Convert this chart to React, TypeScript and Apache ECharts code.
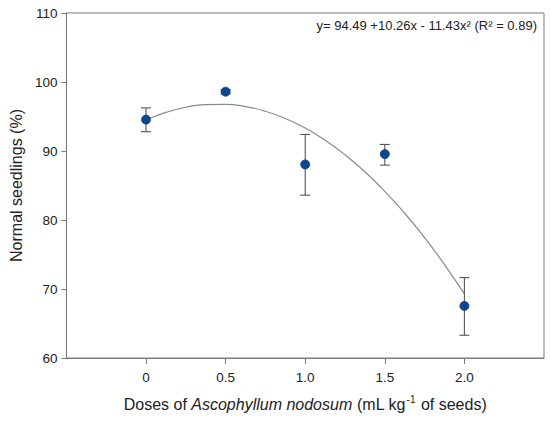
import React, { useEffect, useRef } from "react";
import * as echarts from "echarts";

const doses = [0, 0.5, 1.0, 1.5, 2.0];
const meanValues = [94.55, 98.6, 88.05, 89.55, 67.55];
const lowerValues = [92.8, 98.3, 83.6, 87.95, 63.3];
const upperValues = [96.25, 98.9, 92.4, 90.95, 71.65];

// Fitted curve as drawn in the figure
const curveX = [0, 0.125, 0.25, 0.375, 0.5, 0.625, 0.75, 0.875, 1.0, 1.125, 1.25, 1.375, 1.5, 1.625, 1.75, 1.875, 2.0];
const curveY = [94.49, 95.59, 96.34, 96.73, 96.76, 96.44, 95.76, 94.72, 93.32, 91.57, 89.46, 86.99, 84.16, 80.98, 77.44, 73.54, 69.29];

const xTickValues = [0, 0.5, 1.0, 1.5, 2.0];
const equationText = "y= 94.49 +10.26x - 11.43x\u00B2 (R\u00B2 = 0.89)";

const FONT = "'Liberation Sans', Arial, sans-serif";
const TEXT = "#222";
const AXIS = "#7a7a7a";

export default function App() {
  const ref = useRef<HTMLDivElement>(null);

  useEffect(() => {
    if (!ref.current) return;
    const chart = echarts.init(ref.current, null, { renderer: "svg" });

    const errData = doses.map((d, i) => [d, lowerValues[i], upperValues[i]]);
    const pointData = doses.map((d, i) => [d, meanValues[i]]);
    const lineData = curveX.map((x, i) => [x, curveY[i]]);

    chart.setOption({
      animation: false,
      backgroundColor: "#fff",
      textStyle: { fontFamily: FONT, color: TEXT },
      grid: {
        left: 63,
        right: 6,
        top: 13,
        bottom: 66,
        show: true,
        borderColor: AXIS,
        borderWidth: 1,
      },
      xAxis: {
        type: "value",
        min: -0.5,
        max: 2.5,
        interval: 0.5,
        splitLine: { show: false },
        axisLine: { show: true, onZero: false, lineStyle: { color: AXIS, width: 1 } },
        axisTick: {
          show: true,
          inside: false,
          length: 6,
          customValues: xTickValues,
          lineStyle: { color: AXIS },
        },
        axisLabel: {
          customValues: xTickValues,
          fontSize: 13.5,
          fontFamily: FONT,
          color: TEXT,
          margin: 12,
          formatter: (v: number) => (v === 0 ? "0" : v.toFixed(1)),
        },
        name: "Doses of {i|Ascophyllum nodosum} (mL kg{sup|-1} of seeds)",
        nameLocation: "middle",
        nameGap: 36,
        nameTextStyle: {
          fontSize: 16,
          fontFamily: FONT,
          color: TEXT,
          rich: {
            i: { fontSize: 16, fontStyle: "italic", fontFamily: FONT, color: TEXT },
            sup: { fontSize: 10, fontFamily: FONT, color: TEXT, padding: [0, 1, 10, 1] },
          },
        },
      },
      yAxis: {
        type: "value",
        min: 60,
        max: 110,
        interval: 10,
        splitLine: { show: false },
        axisLine: { show: true, onZero: false, lineStyle: { color: AXIS, width: 1 } },
        axisTick: { show: true, inside: false, length: 5, lineStyle: { color: AXIS } },
        axisLabel: { fontSize: 13.5, fontFamily: FONT, color: TEXT, margin: 9 },
        name: "Normal seedlings (%)",
        nameLocation: "middle",
        nameGap: 38,
        nameTextStyle: { fontSize: 16, fontFamily: FONT, color: TEXT },
      },
      graphic: [
        {
          type: "text",
          right: 13,
          top: 19,
          style: {
            text: equationText,
            fontSize: 13,
            fontFamily: FONT,
            fill: TEXT,
          },
        },
      ],
      series: [
        {
          type: "line",
          data: lineData,
          smooth: true,
          showSymbol: false,
          lineStyle: { color: "#8a8a8a", width: 1.2 },
          z: 2,
        },
        {
          type: "custom",
          data: errData,
          z: 3,
          renderItem: (params: any, api: any) => {
            const x = api.value(0);
            const lo = api.coord([x, api.value(1)]);
            const hi = api.coord([x, api.value(2)]);
            const cap = 5;
            const style = { stroke: "#555", lineWidth: 1.1 };
            return {
              type: "group",
              children: [
                { type: "line", shape: { x1: lo[0], y1: lo[1], x2: hi[0], y2: hi[1] }, style },
                { type: "line", shape: { x1: hi[0] - cap, y1: hi[1], x2: hi[0] + cap, y2: hi[1] }, style },
                { type: "line", shape: { x1: lo[0] - cap, y1: lo[1], x2: lo[0] + cap, y2: lo[1] }, style },
              ],
            };
          },
        },
        {
          type: "scatter",
          data: pointData,
          symbol: "circle",
          symbolSize: 9,
          itemStyle: { color: "#08488f", borderColor: "#063a74", borderWidth: 0.8, opacity: 1 },
          z: 4,
        },
      ],
    });

    return () => chart.dispose();
  }, []);

  return (
    <div
      ref={ref}
      style={{ position: "fixed", left: 0, top: 0, width: 550, height: 424, background: "#fff" }}
    />
  );
}
